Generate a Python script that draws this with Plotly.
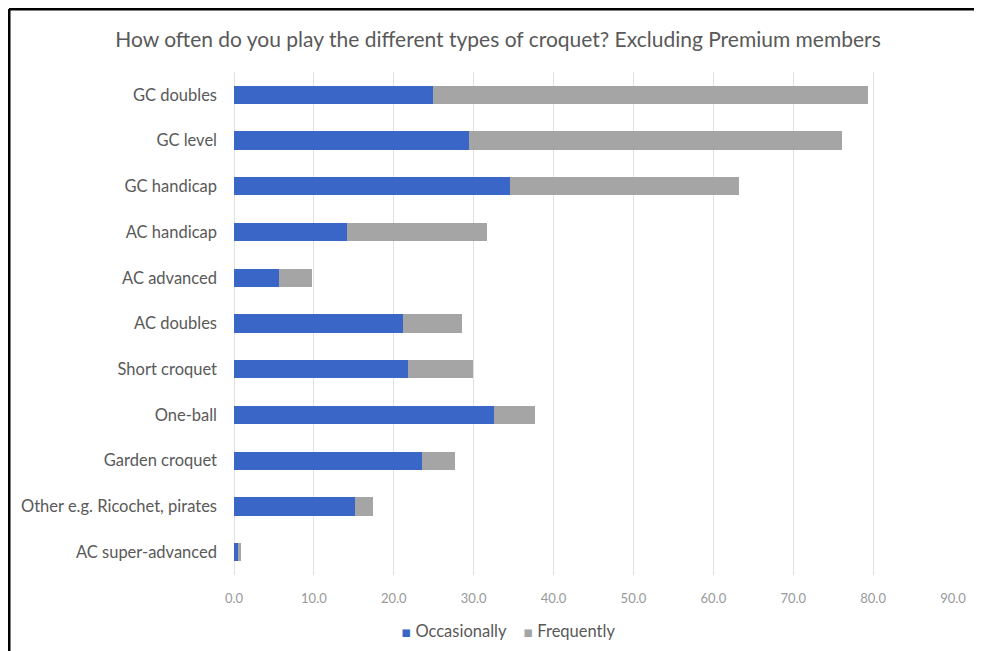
import plotly.graph_objects as go

categories = ["GC doubles", "GC level", "GC handicap", "AC handicap", "AC advanced",
              "AC doubles", "Short croquet", "One-ball", "Garden croquet",
              "Other e.g. Ricochet, pirates", "AC super-advanced"]
occasionally = [24.9, 29.4, 34.5, 14.1, 5.6, 21.1, 21.8, 32.5, 23.5, 15.2, 0.5]
frequently = [54.4, 46.7, 28.7, 17.6, 4.2, 7.5, 8.1, 5.2, 4.2, 2.2, 0.4]
tick_vals = [0, 10, 20, 30, 40, 50, 60, 70, 80, 90]
tick_text = ["0.0", "10.0", "20.0", "30.0", "40.0", "50.0", "60.0", "70.0", "80.0", "90.0"]
series_names = ["Occasionally", "Frequently"]
series_colors = ["#3A66C8", "#A5A5A5"]

FONT = "Lato"
W, H = 974, 643          # page has an 8px body margin
L, R, T, B = 226, 29, 64, 76
PW, PH = W - L - R, H - T - B

fig = go.Figure()
for vals, name, col in zip([occasionally, frequently], series_names, series_colors):
    fig.add_trace(go.Bar(y=categories, x=vals, name=name, orientation="h",
                         marker=dict(color=col, line=dict(width=0))))

bx = -(L - 1) / PW
by = (PH + T - 1) / PH

legend_text = "&nbsp;&nbsp;&nbsp;&nbsp;".join(
    f"<span style='color:{c};font-size:15px;font-family:DejaVu Sans'>▪</span> {n}"
    for n, c in zip(series_names, series_colors))

fig.update_layout(
    width=W, height=H,
    barmode="stack", bargap=0.6,
    showlegend=False,
    paper_bgcolor="white", plot_bgcolor="white",
    margin=dict(l=L, r=R, t=T, b=B, autoexpand=False),
    font=dict(family=FONT, color="#595959"),
    title=dict(text="How often do you play the different types of croquet? Excluding Premium members",
               x=490 / W, xref="container", xanchor="center",
               y=1 - 32 / H, yref="container", yanchor="middle",
               font=dict(family=FONT, size=21, color="#595959")),
    xaxis=dict(range=[0, 90], tickvals=tick_vals, ticktext=tick_text, tickangle=0,
               showgrid=True, gridcolor="#E0E0E0", gridwidth=1,
               zeroline=True, zerolinecolor="#E0E0E0", zerolinewidth=1,
               showline=False, ticks="", ticklabelstandoff=14, automargin=False,
               tickfont=dict(family=FONT, size=13, color="#999999")),
    yaxis=dict(categoryorder="array", categoryarray=categories, autorange="reversed",
               showgrid=False, zeroline=False, showline=False, ticks="",
               ticklabelstandoff=16, automargin=False,
               tickfont=dict(family=FONT, size=16.5, color="#595959")),
    annotations=[dict(text=legend_text, xref="paper", yref="paper",
                      x=(500 - L) / PW, xanchor="center",
                      y=(T + PH - 623) / PH, yanchor="middle", showarrow=False,
                      font=dict(family=FONT, size=16.5, color="#595959"))],
    shapes=[
        dict(type="line", xref="paper", yref="paper",
             x0=bx, x1=1.2, y0=by, y1=by,
             line=dict(color="black", width=3)),
        dict(type="line", xref="paper", yref="paper",
             x0=bx, x1=bx, y0=by, y1=-0.3,
             line=dict(color="black", width=3)),
    ],
)

fig.write_html("out.html")
